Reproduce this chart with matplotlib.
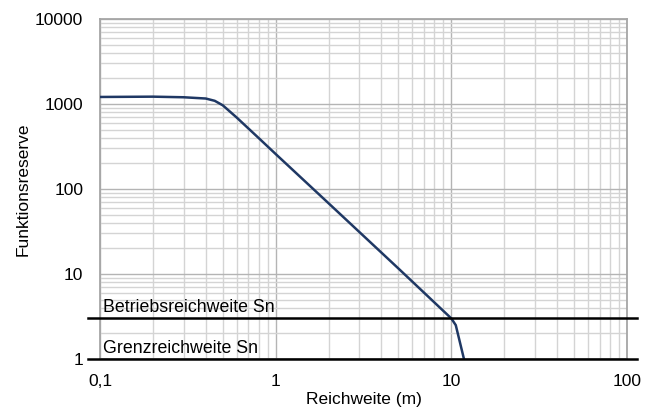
import matplotlib
matplotlib.use('Agg')
import matplotlib.pyplot as plt
from matplotlib.ticker import FixedLocator, FuncFormatter, LogLocator, NullFormatter

plt.rcParams['font.family'] = ['Liberation Sans', 'DejaVu Sans']

# Kennlinie
reichweite = [0.1, 0.2, 0.3, 0.4, 0.45, 0.5, 0.6, 0.8, 1, 2, 5, 10, 10.6, 11.8]
reserve = [1210, 1220, 1200, 1160, 1090, 965, 693, 398, 258, 68, 11.6, 3.0, 2.5, 1.0]

betrieb = 3
grenze = 1
x_ticks = [0.1, 1, 10, 100]
x_labels = ['0,1', '1', '10', '100']
y_ticks = [1, 10, 100, 1000, 10000]

fig = plt.figure(figsize=(6.57, 4.16), dpi=100)
ax = fig.add_axes([100/657, 1 - 359/416, 527/657, 340/416])

ax.set_xscale('log')
ax.set_yscale('log')
ax.set_xlim(0.1, 100)
ax.set_ylim(1, 10000)

ax.xaxis.set_major_locator(FixedLocator(x_ticks))
ax.xaxis.set_major_formatter(FuncFormatter(lambda v, p: x_labels[x_ticks.index(v)] if v in x_ticks else ''))
ax.yaxis.set_major_locator(FixedLocator(y_ticks))
ax.yaxis.set_major_formatter(FuncFormatter(lambda v, p: '%d' % v))
ax.xaxis.set_minor_locator(LogLocator(base=10, subs=range(2, 10)))
ax.yaxis.set_minor_locator(LogLocator(base=10, subs=range(2, 10)))
ax.xaxis.set_minor_formatter(NullFormatter())
ax.yaxis.set_minor_formatter(NullFormatter())

ax.grid(which='major', color='#b4b4b4', linewidth=1.0)
ax.grid(which='minor', color='#d4d4d4', linewidth=1.0)
ax.tick_params(which='both', length=0, labelsize=12.5)
ax.tick_params(axis='y', pad=12)
ax.tick_params(axis='x', pad=11)

for s in ax.spines.values():
    s.set_color('#a6a6a6')
    s.set_linewidth(1.3)

ax.plot(reichweite, reserve, color='#1f3864', linewidth=1.8, zorder=4)

xl = (0.1 * 10 ** (-12 / 175.7), 100 * 10 ** (10 / 175.7))
ax.plot(xl, [betrieb, betrieb], color='black', linewidth=1.8, clip_on=False, zorder=5)
ax.plot(xl, [grenze, grenze], color='black', linewidth=1.8, clip_on=False, zorder=5)

ax.text(0.104, betrieb * 1.07, 'Betriebsreichweite Sn', fontsize=12.75, va='bottom', ha='left')
ax.text(0.104, grenze * 1.07, 'Grenzreichweite Sn', fontsize=12.75, va='bottom', ha='left')

ax.set_xlabel('Reichweite (m)', fontsize=12.5, labelpad=2)
ax.set_ylabel('Funktionsreserve', fontsize=12.5, labelpad=3.5)

fig.savefig('out.png', dpi=100)
